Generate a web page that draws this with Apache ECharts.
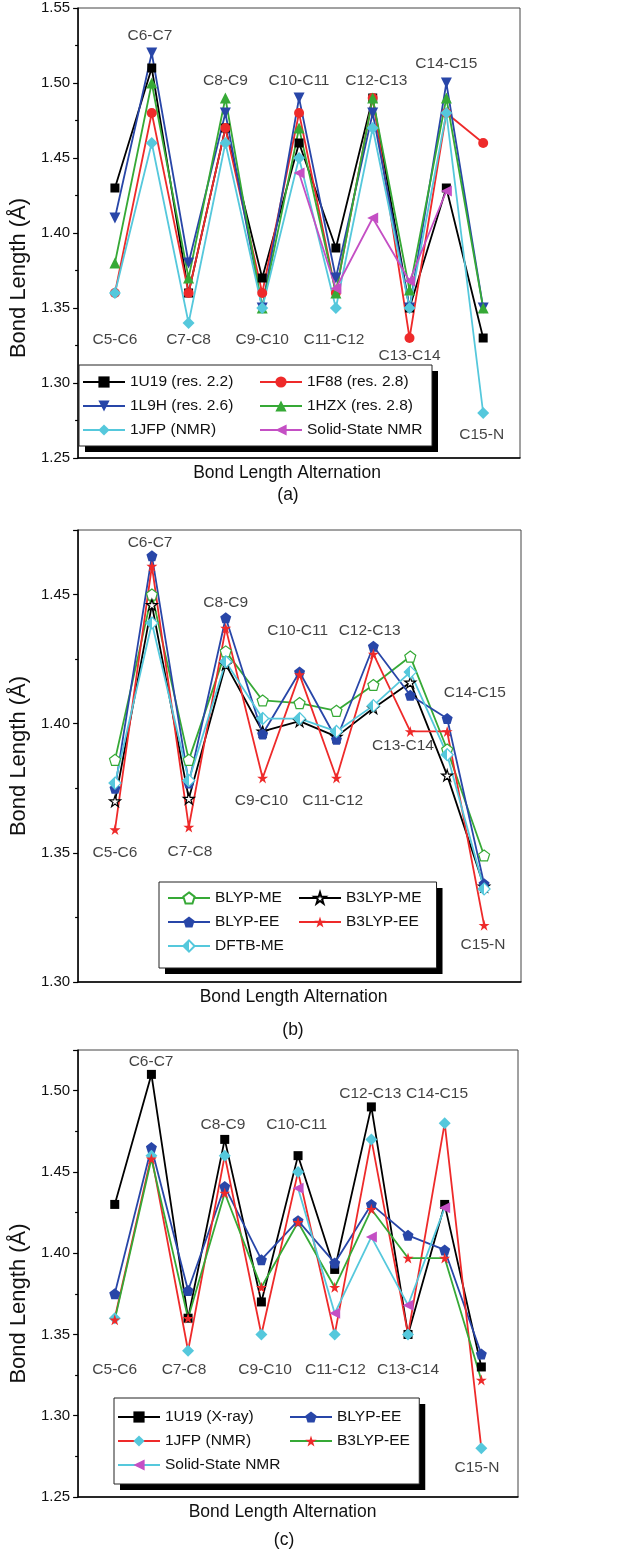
<!DOCTYPE html>
<html>
<head>
<meta charset="utf-8">
<script src="https://cdn.jsdelivr.net/npm/echarts@6/dist/echarts.min.js"></script>
<style>
html,body{margin:0;padding:0;background:#fff;}
#chart{width:642px;height:1549px;}
</style>
</head>
<body>
<div id="chart"></div>
<script>
// ---------- data ----------
var bonds = ['C5-C6','C6-C7','C7-C8','C8-C9','C9-C10','C10-C11','C11-C12','C12-C13','C13-C14','C14-C15','C15-N'];

// panel (a)
var a_1U19 = [1.43, 1.51, 1.36, 1.47, 1.37, 1.46, 1.39, 1.49, 1.35, 1.43, 1.33];
var a_1F88 = [1.36, 1.48, 1.36, 1.47, 1.36, 1.48, 1.36, 1.49, 1.33, 1.48, 1.46];
var a_1L9H = [1.41, 1.52, 1.38, 1.48, 1.35, 1.49, 1.37, 1.48, 1.35, 1.50, 1.35];
var a_1HZX = [1.38, 1.50, 1.37, 1.49, 1.35, 1.47, 1.36, 1.49, 1.362, 1.49, 1.35];
var a_1JFP = [1.36, 1.46, 1.34, 1.46, 1.35, 1.45, 1.35, 1.47, 1.35, 1.48, 1.28];
var a_SSNMR = [null, null, null, null, null, 1.44, 1.363, 1.41, 1.368, 1.428, null];

// panel (b)
var b_BLYP_ME  = [1.386, 1.450, 1.386, 1.428, 1.409, 1.408, 1.405, 1.415, 1.426, 1.390, 1.349];
var b_B3LYP_ME = [1.370, 1.446, 1.371, 1.423, 1.397, 1.401, 1.395, 1.406, 1.416, 1.380, 1.337];
var b_BLYP_EE  = [1.375, 1.465, 1.377, 1.441, 1.396, 1.420, 1.394, 1.430, 1.411, 1.402, 1.338];
var b_B3LYP_EE = [1.359, 1.461, 1.360, 1.437, 1.379, 1.419, 1.379, 1.427, 1.397, 1.397, 1.322];
var b_DFTB_ME  = [1.377, 1.439, 1.378, 1.424, 1.402, 1.402, 1.397, 1.407, 1.420, 1.388, 1.336];

// panel (c)
var c_1U19     = [1.43, 1.51, 1.36, 1.47, 1.37, 1.46, 1.39, 1.49, 1.35, 1.43, 1.33];
var c_BLYP_EE  = [1.375, 1.465, 1.377, 1.441, 1.396, 1.420, 1.394, 1.430, 1.411, 1.402, 1.338];
var c_1JFP     = [1.36, 1.46, 1.34, 1.46, 1.35, 1.45, 1.35, 1.47, 1.35, 1.48, 1.28];
var c_B3LYP_EE = [1.359, 1.458, 1.360, 1.437, 1.379, 1.419, 1.379, 1.427, 1.397, 1.397, 1.322];
var c_SSNMR    = [null, null, null, null, null, 1.44, 1.363, 1.41, 1.368, 1.428, null];

// y-axis ticks
var yTicksA = {min: 1.25, max: 1.55, interval: 0.05};
var yTicksB = {min: 1.30, max: 1.475, interval: 0.05};
var yTicksC = {min: 1.25, max: 1.525, interval: 0.05};

// annotation label anchors (x index, y value)
var annA_x = [0, 0.95, 2, 3, 4, 5, 5.95, 7.1, 8, 9, 9.96];
var annA_y = [1.3287, 1.5313, 1.3287, 1.5013, 1.3287, 1.5013, 1.3287, 1.5013, 1.318, 1.5131, 1.2653];
var annB_x = [0, 0.95, 2.03, 3, 3.97, 4.95, 5.9, 6.9, 7.8, 9.75, 9.97];
var annB_y = [1.350, 1.470, 1.3506, 1.4468, 1.370, 1.4359, 1.370, 1.4359, 1.3913, 1.412, 1.3145];
var annC_x = [0, 0.99, 1.89, 2.95, 4.1, 4.96, 6.02, 6.97, 8.0, 8.79, 9.88];
var annC_y = [1.328, 1.518, 1.328, 1.479, 1.328, 1.479, 1.328, 1.4984, 1.328, 1.4984, 1.2678];

// ---------- styling ----------
var FONT = "'Liberation Sans', Arial, sans-serif";
var TXT = '#111111';
var BLACK = '#000000', RED = '#ee2a2a', BLUE = '#2846a8', GREEN = '#36a936', CYAN = '#55c8dc', MAGENTA = '#c44fc4';
var PENTAGON = 'path://M0,-1 L0.951,-0.309 L0.588,0.809 L-0.588,0.809 L-0.951,-0.309 Z';
var STAR = 'path://M0,-1 L0.2245,-0.309 L0.951,-0.309 L0.363,0.118 L0.588,0.809 L0,0.382 L-0.588,0.809 L-0.363,0.118 L-0.951,-0.309 L-0.2245,-0.309 Z';
var HALF_CYAN = {type: 'linear', x: 0, y: 0, x2: 1, y2: 0, colorStops: [
  {offset: 0, color: CYAN}, {offset: 0.5, color: CYAN}, {offset: 0.5, color: '#ffffff'}, {offset: 1, color: '#ffffff'}]};

function pts(arr) { return arr.map(function (v, i) { return [i, v]; }); }

function lineSeries(name, arr, idx, lineColor, symbol, size, fill, border, rotate) {
  return {
    type: 'line', name: name, data: pts(arr), xAxisIndex: idx, yAxisIndex: idx,
    symbol: symbol, symbolSize: size, symbolRotate: rotate || 0, showAllSymbol: true,
    lineStyle: {color: lineColor, width: 1.8},
    itemStyle: {color: fill, borderColor: border || fill, borderWidth: border ? 1.2 : 0, opacity: 1},
    emphasis: {disabled: true}, animation: false, z: 3
  };
}

function annSeries(xs, ys, idx) {
  return {
    type: 'scatter', xAxisIndex: idx, yAxisIndex: idx, symbolSize: 0, silent: true, animation: false, z: 5,
    data: bonds.map(function (b, i) { return {name: b, value: [xs[i], ys[i]]}; }),
    label: {show: true, position: 'inside', formatter: function (p) { return p.name; },
      color: TXT, fontSize: 15.5, fontFamily: FONT}
  };
}

function grid(left, top, width, height) {
  return {left: left, top: top, width: width, height: height, show: true, borderColor: '#444', borderWidth: 1, backgroundColor: 'transparent'};
}

function xAx(idx, padRight) {
  return {
    type: 'value', gridIndex: idx, min: -1, max: 11,
    axisLine: {show: true, onZero: false, lineStyle: {color: '#000', width: 1.5}},
    axisTick: {show: false}, axisLabel: {show: false}, splitLine: {show: false},
    name: 'Bond Length Alternation', nameLocation: 'middle', nameGap: 6,
    nameTextStyle: {fontSize: 17.5, fontFamily: FONT, color: TXT, verticalAlign: 'top', padding: [0, padRight, 0, 0]}
  };
}

function yAx(idx, t, padRight) {
  return {
    type: 'value', gridIndex: idx, min: t.min, max: t.max, interval: t.interval,
    axisLine: {show: true, onZero: false, lineStyle: {color: '#000', width: 1.5}},
    axisTick: {show: true, inside: false, length: 5, lineStyle: {color: '#000', width: 1.2}},
    minorTick: {show: true, splitNumber: 2, length: 3, lineStyle: {color: '#000', width: 1.2}},
    axisLabel: {margin: 8, fontSize: 15, fontFamily: FONT, color: TXT, showMaxLabel: true,
      formatter: function (v) {
        var k = Math.round(v / 0.05);
        return Math.abs(k * 0.05 - v) < 1e-6 ? v.toFixed(2) : '';
      }},
    splitLine: {show: false},
    name: 'Bond Length (\u00C5)', nameLocation: 'middle', nameGap: 40, nameRotate: 90,
    nameTextStyle: {fontSize: 22, fontFamily: FONT, color: TXT, padding: [0, padRight, 0, 0]}
  };
}

// frame=false: white box with black drop shadow + visible items; frame=true: border only, items hidden
function legend(data, leftNames, left, top, wL, wR, width, padding, lh, frame) {
  var txtColor = frame ? 'rgba(0,0,0,0)' : TXT;
  var l = {
    data: data, orient: 'horizontal', left: left, top: top, width: width,
    padding: padding, itemGap: 8, itemWidth: 42, itemHeight: 14,
    selectedMode: false, inactiveColor: '#000', z: frame ? 6 : 5,
    formatter: function (n) { return (leftNames.indexOf(n) >= 0 ? '{l|' : '{r|') + n + '}'; },
    textStyle: {fontSize: 15.5, fontFamily: FONT, color: txtColor,
      rich: {l: {width: wL, fontSize: 15.5, fontFamily: FONT, color: txtColor, lineHeight: lh},
             r: {width: wR, fontSize: 15.5, fontFamily: FONT, color: txtColor, lineHeight: lh}}}
  };
  if (frame) {
    l.backgroundColor = 'rgba(0,0,0,0)';
    l.borderColor = '#222'; l.borderWidth = 1;
    l.itemStyle = {opacity: 0}; l.lineStyle = {opacity: 0};
  } else {
    l.backgroundColor = '#ffffff'; l.borderWidth = 0;
    l.shadowColor = '#000'; l.shadowBlur = 0; l.shadowOffsetX = 6; l.shadowOffsetY = 6;
  }
  return l;
}

var legA = ['1U19 (res. 2.2)', '1F88 (res. 2.8)', '1L9H (res. 2.6)', '1HZX (res. 2.8)', '1JFP (NMR)', 'Solid-State NMR'];
var legA_left = ['1U19 (res. 2.2)', '1L9H (res. 2.6)', '1JFP (NMR)'];
var legB = ['BLYP-ME', 'B3LYP-ME', 'BLYP-EE', 'B3LYP-EE', 'DFTB-ME'];
var legB_left = ['BLYP-ME', 'BLYP-EE', 'DFTB-ME'];
var legC = ['1U19 (X-ray)', 'BLYP-EE ', '1JFP (NMR) ', 'B3LYP-EE ', 'Solid-State NMR '];
var legC_left = ['1U19 (X-ray)', '1JFP (NMR) ', 'Solid-State NMR '];

var legends = [];
[false, true].forEach(function (f) {
  legends.push(legend(legA, legA_left, 79, 365, 121, 121, 420, [9, 4, 8, 3], 17, f));
  legends.push(legend(legB, legB_left, 159, 882, 75, 75, 330, [8, 15, 14, 8], 15, f));
  legends.push(legend(legC, legC_left, 114, 1398, 116, 72, 360, [11, 5, 11, 3], 15, f));
});

var option = {
  backgroundColor: '#ffffff',
  animation: false,
  textStyle: {fontFamily: FONT},
  title: [
    {text: '(a)', left: 283, top: 490, textAlign: 'center', textVerticalAlign: 'middle', textStyle: {fontSize: 17.5, fontWeight: 'normal', fontFamily: FONT, color: TXT}},
    {text: '(b)', left: 288, top: 1025, textAlign: 'center', textVerticalAlign: 'middle', textStyle: {fontSize: 17.5, fontWeight: 'normal', fontFamily: FONT, color: TXT}},
    {text: '(c)', left: 279, top: 1535, textAlign: 'center', textVerticalAlign: 'middle', textStyle: {fontSize: 17.5, fontWeight: 'normal', fontFamily: FONT, color: TXT}}
  ],
  grid: [grid(70, 8, 450, 450), grid(71, 530, 450, 452), grid(70, 1050, 448, 447)],
  xAxis: [xAx(0, 24), xAx(1, 12), xAx(2, 31)],
  yAxis: [yAx(0, yTicksA, 90), yAx(1, yTicksB, 0), yAx(2, yTicksC, 60)],
  legend: legends,
  series: [
    lineSeries('1U19 (res. 2.2)', a_1U19, 0, BLACK, 'rect', 9, BLACK),
    lineSeries('1F88 (res. 2.8)', a_1F88, 0, RED, 'circle', 10, RED),
    lineSeries('1L9H (res. 2.6)', a_1L9H, 0, BLUE, 'triangle', 11, BLUE, null, 180),
    lineSeries('1HZX (res. 2.8)', a_1HZX, 0, GREEN, 'triangle', 11, GREEN),
    lineSeries('1JFP (NMR)', a_1JFP, 0, CYAN, 'diamond', 12, CYAN),
    lineSeries('Solid-State NMR', a_SSNMR, 0, MAGENTA, 'triangle', 11, MAGENTA, null, 90),
    annSeries(annA_x, annA_y, 0),

    lineSeries('BLYP-ME', b_BLYP_ME, 1, GREEN, PENTAGON, 11, '#ffffff', GREEN),
    lineSeries('B3LYP-ME', b_B3LYP_ME, 1, BLACK, STAR, 11, '#ffffff', BLACK),
    lineSeries('BLYP-EE', b_BLYP_EE, 1, BLUE, PENTAGON, 11, BLUE),
    lineSeries('B3LYP-EE', b_B3LYP_EE, 1, RED, STAR, 11, RED),
    lineSeries('DFTB-ME', b_DFTB_ME, 1, CYAN, 'diamond', 12, HALF_CYAN, CYAN),
    annSeries(annB_x, annB_y, 1),

    lineSeries('1U19 (X-ray)', c_1U19, 2, BLACK, 'rect', 9, BLACK),
    lineSeries('BLYP-EE ', c_BLYP_EE, 2, BLUE, PENTAGON, 11, BLUE),
    lineSeries('1JFP (NMR) ', c_1JFP, 2, RED, 'diamond', 12, CYAN),
    lineSeries('B3LYP-EE ', c_B3LYP_EE, 2, GREEN, STAR, 11, RED),
    lineSeries('Solid-State NMR ', c_SSNMR, 2, CYAN, 'triangle', 11, MAGENTA, null, 90),
    annSeries(annC_x, annC_y, 2)
  ]
};

var chart = echarts.init(document.getElementById('chart'), null, {renderer: 'canvas'});
chart.setOption(option);
</script>
</body>
</html>
